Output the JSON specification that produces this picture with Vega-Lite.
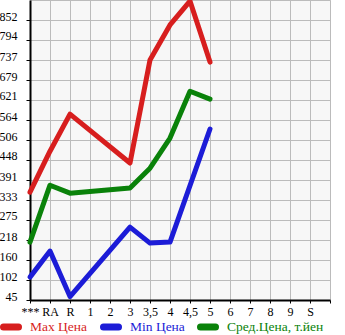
{
  "$schema": "https://vega.github.io/schema/vega-lite/v6.json",
  "width": 300,
  "height": 300,
  "autosize": "none",
  "padding": {"left": 30, "top": 0, "right": 15, "bottom": 35},
  "background": "white",
  "config": {"view": {"fill": "#f7f7f7", "stroke": "#bbbbbb"}, "font": "Liberation Serif"},
  "data": {"values": [
    {"series": "Max Цена", "grade": "***", "i": 0, "price": 356},
    {"series": "Max Цена", "grade": "RA", "i": 1, "price": 474},
    {"series": "Max Цена", "grade": "R", "i": 2, "price": 581},
    {"series": "Max Цена", "grade": "3", "i": 5, "price": 440},
    {"series": "Max Цена", "grade": "3,5", "i": 6, "price": 737},
    {"series": "Max Цена", "grade": "4", "i": 7, "price": 838},
    {"series": "Max Цена", "grade": "4,5", "i": 8, "price": 907},
    {"series": "Max Цена", "grade": "5", "i": 9, "price": 731},
    {"series": "Min Цена", "grade": "***", "i": 0, "price": 111},
    {"series": "Min Цена", "grade": "RA", "i": 1, "price": 186},
    {"series": "Min Цена", "grade": "R", "i": 2, "price": 55},
    {"series": "Min Цена", "grade": "3", "i": 5, "price": 255},
    {"series": "Min Цена", "grade": "3,5", "i": 6, "price": 209},
    {"series": "Min Цена", "grade": "4", "i": 7, "price": 212},
    {"series": "Min Цена", "grade": "5", "i": 9, "price": 538},
    {"series": "Сред.Цена, т.йен", "grade": "***", "i": 0, "price": 212},
    {"series": "Сред.Цена, т.йен", "grade": "RA", "i": 1, "price": 376},
    {"series": "Сред.Цена, т.йен", "grade": "R", "i": 2, "price": 353},
    {"series": "Сред.Цена, т.йен", "grade": "3", "i": 5, "price": 368},
    {"series": "Сред.Цена, т.йен", "grade": "3,5", "i": 6, "price": 425},
    {"series": "Сред.Цена, т.йен", "grade": "4", "i": 7, "price": 512},
    {"series": "Сред.Цена, т.йен", "grade": "4,5", "i": 8, "price": 647},
    {"series": "Сред.Цена, т.йен", "grade": "5", "i": 9, "price": 624}
  ]},
  "mark": {"type": "line", "strokeWidth": 5, "strokeCap": "round", "strokeJoin": "round"},
  "encoding": {
    "x": {
      "field": "grade",
      "type": "ordinal",
      "scale": {"type": "point", "padding": 0, "domain": ["***", "RA", "R", "1", "2", "3", "3,5", "4", "4,5", "5", "6", "7", "8", "9", "S", " "]},
      "axis": {
        "title": null,
        "grid": true,
        "gridColor": "#bbbbbb",
        "gridWidth": 1,
        "domainColor": "black",
        "domainWidth": 2,
        "tickColor": "black",
        "tickSize": 3,
        "labelFont": "Liberation Serif",
        "labelFontSize": 12,
        "labelColor": "black",
        "labelPadding": 3,
        "labelAngle": 0
      }
    },
    "y": {
      "field": "price",
      "type": "quantitative",
      "scale": {"domain": [45, 910], "nice": false, "zero": false},
      "axis": {
        "title": null,
        "values": [45, 102.6667, 160.3333, 218, 275.6667, 333.3333, 391, 448.6667, 506.3333, 564, 621.6667, 679.3333, 737, 794.6667, 852.3333],
        "labelExpr": "floor(datum.value)",
        "grid": true,
        "gridColor": "#bbbbbb",
        "gridWidth": 1,
        "domainColor": "black",
        "domainWidth": 2,
        "tickColor": "black",
        "tickSize": 4,
        "labelFont": "Liberation Serif",
        "labelFontSize": 12,
        "labelColor": "black",
        "labelPadding": 9,
        "labelBaseline": "alphabetic"
      }
    },
    "color": {
      "field": "series",
      "type": "nominal",
      "scale": {"domain": ["Max Цена", "Min Цена", "Сред.Цена, т.йен"], "range": ["#d71e1e", "#1c1cd7", "#0a820a"]},
      "legend": {
        "title": null,
        "orient": "none",
        "legendX": -30,
        "legendY": 316,
        "direction": "horizontal",
        "gridAlign": "none",
        "symbolType": "stroke",
        "symbolStrokeWidth": 7,
        "symbolSize": 225,
        "labelFont": "Liberation Serif",
        "labelFontSize": 13.5,
        "labelLimit": 200,
        "columnPadding": 1,
        "labelOffset": 8,
        "encode": {
          "labels": {"update": {"fill": {"scale": "color", "field": "value"}}},
          "symbols": {"update": {"strokeCap": {"value": "round"}}}
        }
      }
    },
    "order": {"field": "i", "type": "quantitative"}
  }
}
